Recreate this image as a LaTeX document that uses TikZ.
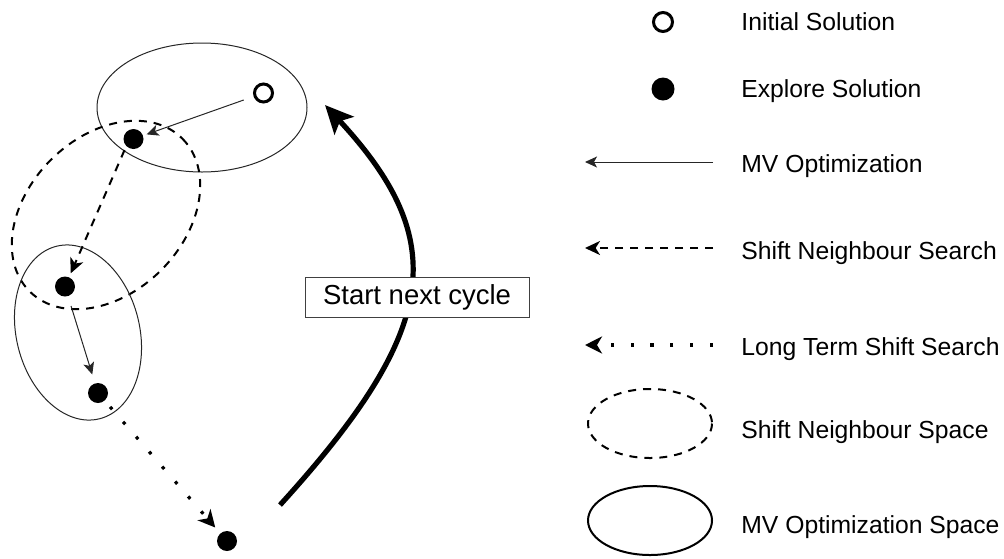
\documentclass[tikz,border=0pt]{standalone}
\usepackage{fontspec}
\setmainfont{Liberation Sans}
\usetikzlibrary{arrows.meta}
\begin{document}
\begin{tikzpicture}[x=0.5pt,y=-0.5pt,
  soln/.style={circle, draw=black, line width=1.5pt, fill=white, minimum size=9pt, inner sep=0pt},
  expl/.style={circle, fill=black, minimum size=10pt, inner sep=0pt},
  mvspace/.style={draw=black!85, line width=0.5pt},
  nbspace/.style={draw=black, line width=1pt, dash pattern=on 4pt off 3.5pt},
  mvarrow/.style={draw=black!85, line width=0.5pt, -{Stealth[length=6pt,width=5.5pt,inset=1.5pt]}},
  nbarrow/.style={draw=black, line width=1pt, dash pattern=on 4pt off 3.5pt, -{Stealth[length=7.5pt,width=7pt,inset=2.2pt]}},
  ltarrow/.style={draw=black, line width=1.6pt, dash pattern=on 1.6pt off 8.3pt, -{Stealth[length=8.5pt,width=8.5pt,inset=2.5pt]}},
  cyclearrow/.style={draw=black, line width=2.6pt, -{Stealth[length=14pt,width=13pt,inset=3pt]}},
  legtext/.style={anchor=base west, inner sep=0pt, font=\fontsize{12.35}{14}\selectfont},
  cyclebox/.style={draw=black!75, fill=white, line width=0.5pt, minimum width=112pt, minimum height=20pt, inner sep=0pt, font=\fontsize{13.75}{16}\selectfont},
]
\useasboundingbox (0,0) rectangle (1004,558);

% search spaces
\draw[mvspace] (202,107.5) ellipse [x radius=105, y radius=64.5];
\draw[nbspace, rotate around={45:(106,215)}] (106,215) ellipse [x radius=108, y radius=78];
\draw[mvspace, rotate around={14:(78,332.5)}] (78,332.5) ellipse [x radius=61.6, y radius=88.9];

% solutions
\node[soln] (init) at (263.5,93) {};
\node[expl] (e1) at (133.5,139) {};
\node[expl] (e2) at (65,286.5) {};
\node[expl] (e3) at (98,393) {};
\node[expl] (e4) at (227,541) {};

% search moves
\draw[mvarrow, shorten <=5.2pt, shorten >=1.75pt] (init) -- (e1);
\draw[nbarrow, shorten <=2pt, shorten >=2pt] (e1.south west) -- (e2);
\draw[mvarrow, shorten <=5pt, shorten >=4.5pt] (e2) -- (e3);
\draw[ltarrow, shorten <=4pt, shorten >=3.75pt] (e3) -- (e4);

% restart arrow
\coordinate (cycA) at (280,505);
\coordinate (cycB) at (325,105);
\draw[cyclearrow] (cycA) .. controls (440,329) and (451,241) .. (cycB);
\node[cyclebox] (cycle) at (417,297) {Start next cycle};

% legend
\node[soln, minimum size=9.5pt] (lsoln) at (663,22) {};
\node[expl, minimum size=11.5pt] (lexpl) at (663,89) {};
\coordinate (lmvA) at (713,162);   \coordinate (lmvB) at (585,162);
\coordinate (lnbA) at (713,248);   \coordinate (lnbB) at (585,248);
\coordinate (lltA) at (713,345);   \coordinate (lltB) at (585,345);
\draw[mvarrow] (lmvA) -- (lmvB);
\draw[nbarrow] (lnbA) -- (lnbB);
\draw[ltarrow] (lltA) -- (lltB);
\draw[nbspace] (650,423.5) ellipse [x radius=62, y radius=34.5];
\draw[draw=black, line width=1pt] (650,520.5) ellipse [x radius=62, y radius=34.5];

\node[legtext] (tinit) at (741,30.7) {Initial Solution};
\node[legtext] (texpl) at (741,97.7) {Explore Solution};
\node[legtext] (tmv) at (741,172.3) {MV Optimization};
\node[legtext] (tnb) at (741,259) {Shift Neighbour Search};
\node[legtext] (tlt) at (741,355) {Long Term Shift Search};
\node[legtext] (tnbs) at (741,438) {Shift Neighbour Space};
\node[legtext] (tmvs) at (741,533) {MV Optimization Space};
\end{tikzpicture}
\end{document}
